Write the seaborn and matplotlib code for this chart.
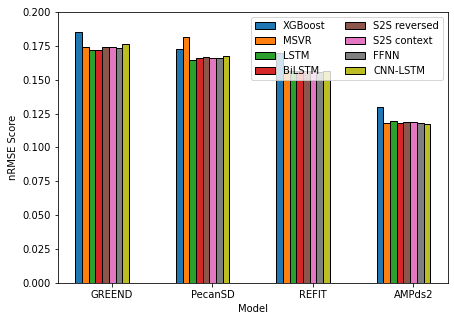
import pandas as pd
import matplotlib
matplotlib.use("Agg")
import matplotlib.pyplot as plt
import seaborn as sns

# datasets on the x axis and the models in each group
datasets = ['GREEND', 'PecanSD', 'REFIT', 'AMPds2']
models = ['XGBoost', 'MSVR', 'LSTM', 'BiLSTM', 'S2S reversed', 'S2S context', 'FFNN', 'CNN-LSTM']

# nRMSE per model, one value per dataset
xgboost = [0.185, 0.1725, 0.170, 0.1300]
msvr = [0.1740, 0.1812, 0.1563, 0.1178]
lstm = [0.1717, 0.1643, 0.1565, 0.1193]
bilstm = [0.1717, 0.1658, 0.1565, 0.1178]
s2s_reversed = [0.1745, 0.1665, 0.1563, 0.1186]
s2s_context = [0.1745, 0.1658, 0.1565, 0.1186]
ffnn = [0.1732, 0.1658, 0.1560, 0.1178]
cnn_lstm = [0.1762, 0.1673, 0.1563, 0.1171]

series = [xgboost, msvr, lstm, bilstm, s2s_reversed, s2s_context, ffnn, cnn_lstm]
rows = []
for m, vals in zip(models, series):
    for d, v in zip(datasets, vals):
        rows.append({'Model': d, 'Method': m, 'nRMSE Score': v})
df = pd.DataFrame(rows)

fig = plt.figure(figsize=(454 / 72, 321 / 72), dpi=72)
ax = fig.add_axes([0.1267, 0.1184, 0.8603, 0.8442])

# tab10 without the purple entry
tab = sns.color_palette('tab10', 10)
palette = [tab[i] for i in [0, 1, 2, 3, 5, 6, 7, 8]]
sns.barplot(data=df, x='Model', y='nRMSE Score', hue='Method', order=datasets,
            hue_order=models, palette=palette, saturation=1, width=0.533,
            edgecolor='black', linewidth=1, errorbar=None, ax=ax)

ax.set_ylim(0, 0.2)
ax.set_xlim(-0.444, 3.444)
# tick marks sit a little to the right of each group's centre, as in the original
ax.set_xticks([i + 0.098 for i in range(len(datasets))])
ax.set_xticklabels(datasets)
ax.set_yticks([0.0, 0.025, 0.05, 0.075, 0.1, 0.125, 0.15, 0.175, 0.2])
ax.set_yticklabels([f'{t:.3f}' for t in ax.get_yticks()])
ax.set_xlabel('Model')
ax.set_ylabel('nRMSE Score')

ax.legend(loc='upper right', ncol=2)

fig.savefig('out.png', dpi=72)
